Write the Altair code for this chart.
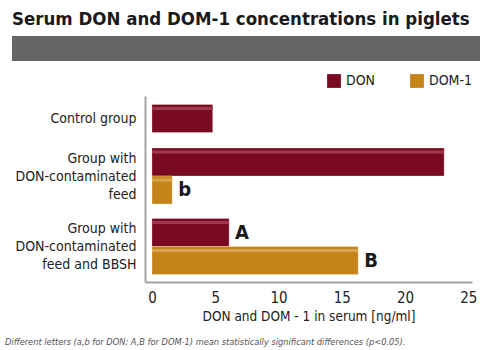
import altair as alt
import pandas as pd

# ---- data ----
groups = ["Control group", "Group with DON-contaminated feed", "Group with DON-contaminated feed and BBSH"]
group_lines = [["Control group"], ["Group with", "DON-contaminated", "feed"], ["Group with", "DON-contaminated", "feed and BBSH"]]
series_names = ["DON", "DOM-1"]
don_values = [4.8, 23.1, 6.1]
dom1_values = [None, 1.6, 16.3]
don_letters = ["", "", "A"]
dom1_letters = ["", "b", "B"]
x_ticks = [0, 5, 10, 15, 20, 25]
title_text = "Serum DON and DOM-1 concentrations in piglets"
x_title = "DON and DOM - 1 in serum [ng/ml]"
footnote = "Different letters (a,b for DON; A,B for DOM-1) mean statistically significant differences (p<0.05)."

# ---- styling ----
DON_C = "#7a0a22"
DOM_C = "#c4841a"
DON_HI = "#9e3a4c"
DOM_HI = "#d8a450"
AXIS_C = "#a3a3a3"
FONT = "DejaVu Sans Condensed"
BAR = 28
LH = 18
W = 327
heights = [45, 70, 71]

rows = []
for gi, g in enumerate(groups):
    rows.append({"group": g, "series": "DON", "value": don_values[gi], "letter": don_letters[gi]})
    if dom1_values[gi] is not None:
        rows.append({"group": g, "series": "DOM-1", "value": dom1_values[gi], "letter": dom1_letters[gi]})
df = pd.DataFrame(rows)

color = alt.Color(
    "series:N",
    scale=alt.Scale(domain=series_names, range=[DON_C, DOM_C]),
    legend=alt.Legend(
        orient="none", legendX=182, legendY=-22, direction="horizontal", title=None,
        symbolType="square", symbolSize=190, symbolStrokeWidth=0, symbolOpacity=1,
        labelFont=FONT, labelFontSize=14, labelColor="#222", columnPadding=34, labelOffset=5,
    ),
)

panels = []
for gi, g in enumerate(groups):
    H = heights[gi]
    sub = df[df["group"] == g]
    present = list(sub["series"])
    po = (H / BAR - len(present)) / 2
    nl = len(group_lines[gi])
    last = gi == len(groups) - 1
    if last:
        xaxis = alt.Axis(
            values=x_ticks, grid=False, ticks=False, domainColor=AXIS_C, domainWidth=2,
            labelFont=FONT, labelFontSize=15, labelColor="#222", labelPadding=8,
            title=x_title, titleFont=FONT, titleFontSize=13.5, titleFontWeight="normal",
            titleColor="#222", titlePadding=4,
        )
    else:
        xaxis = None
    x = alt.X("value:Q", scale=alt.Scale(domain=[-0.55, 25.3], nice=False, zero=False), axis=xaxis)
    y = alt.Y(
        "series:N",
        scale=alt.Scale(domain=present, paddingInner=0, paddingOuter=po),
        axis=alt.Axis(
            labels=False, ticks=False, domainColor=AXIS_C, domainWidth=2,
            title=group_lines[gi], titleAngle=0, titleAlign="right", titleBaseline="middle",
            titleX=-9, titleY=H / 2 - (nl - 1) * LH / 2, titleFont=FONT, titleFontSize=14,
            titleFontWeight="normal", titleColor="#222", titleLineHeight=LH,
        ),
    )
    base = alt.Chart(sub)
    bars = base.mark_bar(size=BAR, stroke="#ffffff", strokeOpacity=0.25, strokeWidth=1).encode(
        x=x, x2=alt.datum(0), y=y, color=color
    )
    hi = base.mark_bar(size=3, yOffset=-10).encode(
        x=alt.X("value:Q"), x2=alt.datum(0), y=alt.Y("series:N"),
        color=alt.condition(alt.datum.series == "DON", alt.value(DON_HI), alt.value(DOM_HI)),
    )
    letters = base.transform_filter(alt.datum.letter != "").mark_text(
        align="left", baseline="middle", dx=6, font=FONT, fontSize=20, fontWeight="bold", color="#1a1a1a"
    ).encode(x=alt.X("value:Q"), y=alt.Y("series:N"), text="letter:N")
    layers = [bars, hi, letters]
    if gi == 0:
        band = alt.Chart(pd.DataFrame({"t": [title_text]})).mark_rect(color="#666464").encode(
            x=alt.value(-133), x2=alt.value(335), y=alt.value(-60), y2=alt.value(-35)
        )
        layers.append(band)
    if last:
        note = alt.Chart(pd.DataFrame({"t": [footnote]})).mark_text(
            align="left", baseline="middle", font=FONT, fontSize=9.2, fontStyle="italic", color="#555"
        ).encode(x=alt.value(-140), y=alt.value(131), text="t:N")
        layers.append(note)
    panels.append(alt.layer(*layers).properties(width=W, height=H))

chart = alt.vconcat(*panels, spacing=0, bounds="flush").properties(
    title=alt.TitleParams(
        title_text, anchor="start", font=FONT, fontSize=18.5, fontWeight="bold", color="#1a1a1a", offset=8, dx=7
    ),
    padding={"left": 5, "top": 9, "right": 5, "bottom": 0},
).configure_view(stroke=None)

chart.save("out.html", embed_options={"renderer": "svg", "actions": False})
